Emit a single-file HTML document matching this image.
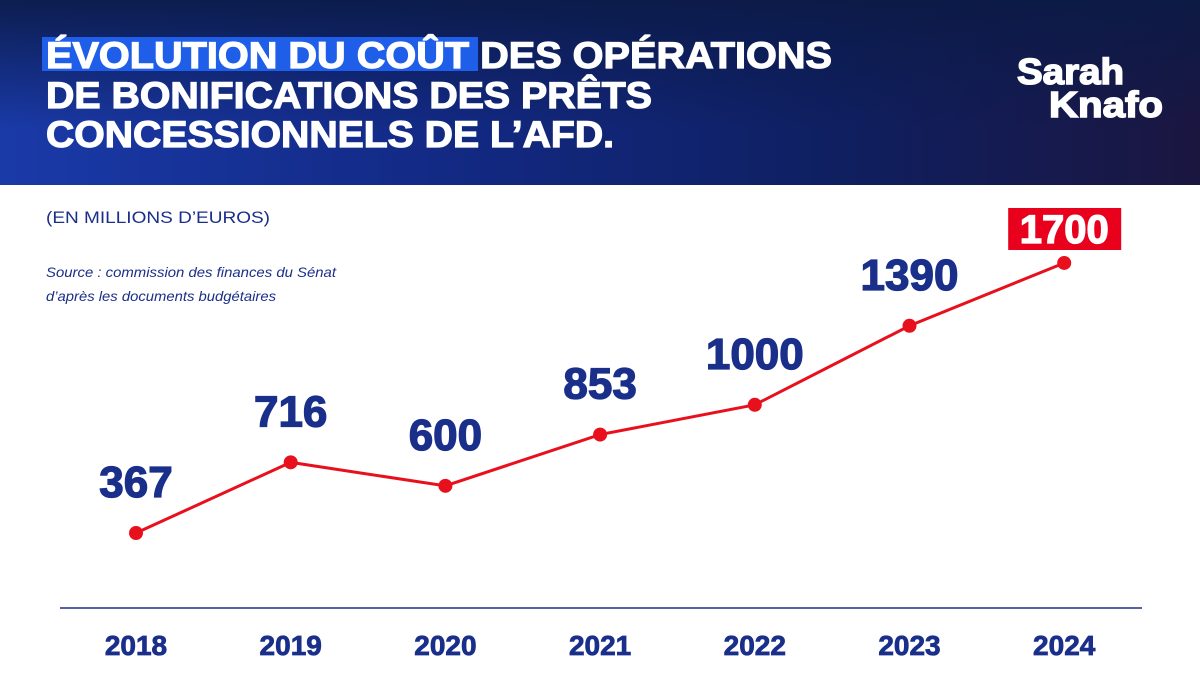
<!DOCTYPE html>
<html><head><meta charset="utf-8"><style>
body{margin:0;width:1200px;height:675px;overflow:hidden;background:#fff;font-family:"Liberation Sans",sans-serif}
</style></head><body>
<svg width="1200" height="675" viewBox="0 0 1200 675">
<defs>
<linearGradient id="hg" x1="0" y1="0" x2="1" y2="0">
<stop offset="0" stop-color="#1a3aa8"/><stop offset="0.35" stop-color="#132a86"/><stop offset="0.7" stop-color="#0f1f60"/><stop offset="1" stop-color="#1b1640"/>
</linearGradient>
<linearGradient id="hv" x1="0" y1="0" x2="0" y2="1">
<stop offset="0" stop-color="#0b1a45" stop-opacity="0.9"/><stop offset="0.7" stop-color="#0b1a4a" stop-opacity="0"/>
</linearGradient>
</defs>
<g>
<rect x="0" y="0" width="1200" height="185" fill="url(#hg)"/>
<rect x="0" y="0" width="1200" height="185" fill="url(#hv)"/>
<rect x="42" y="37" width="436" height="34" fill="#1f5ee8"/>
<g font-weight="bold" font-size="37" fill="#fff" stroke="#fff" stroke-width="1.2">
<text x="46" y="68" textLength="786" lengthAdjust="spacingAndGlyphs">ÉVOLUTION DU COÛT DES OPÉRATIONS</text>
<text x="46" y="108" textLength="606" lengthAdjust="spacingAndGlyphs">DE BONIFICATIONS DES PRÊTS</text>
<text x="46" y="147" textLength="568" lengthAdjust="spacingAndGlyphs">CONCESSIONNELS DE L’AFD.</text>
</g>
<g font-weight="bold" fill="#fff" stroke="#fff" stroke-width="1.5" font-size="36">
<text x="1017" y="84" textLength="107" lengthAdjust="spacingAndGlyphs">Sarah</text>
<text x="1049" y="117" textLength="114" lengthAdjust="spacingAndGlyphs">Knafo</text>
</g>
</g>
<text x="46" y="223" font-size="17" fill="#1a2f8a" textLength="224" lengthAdjust="spacingAndGlyphs">(EN MILLIONS D’EUROS)</text>
<g font-size="14" font-style="italic" fill="#1a2f8a">
<text x="46" y="277" textLength="290" lengthAdjust="spacingAndGlyphs">Source : commission des finances du Sénat</text>
<text x="46" y="301" textLength="230" lengthAdjust="spacingAndGlyphs">d’après les documents budgétaires</text>
</g>
<line x1="60" y1="608" x2="1142" y2="608" stroke="#1a2f8a" stroke-width="1.5"/>
<g id="plot"></g>
</svg>
<script>
const years=["2018","2019","2020","2021","2022","2023","2024"];
const values=[367,716,600,853,1000,1390,1700];
const NS="http://www.w3.org/2000/svg";
const g=document.getElementById('plot');
const xs=i=>136+i*154.7;
const ys=v=>607.4-v*0.2026;
function mk(t,a){const e=document.createElementNS(NS,t);for(const k in a)e.setAttribute(k,a[k]);g.appendChild(e);return e;}
const line=mk('polyline',{points:values.map((v,i)=>xs(i)+','+ys(v)).join(' '),fill:'none',stroke:'#e8101c','stroke-width':3});


values.forEach((v,i)=>{
const x=xs(i),y=ys(v);
const c=mk('circle',{cx:x,cy:y,r:7,fill:'#e8101c'});


const last=i===values.length-1;
if(last){
const r=mk('rect',{x:x-56,y:y-55,width:113,height:42,fill:'#e8001c'});


}
const col=last?'#fff':'#1a2f8a';
const t=mk('text',{x:x,y:last?y-20:y-36,'text-anchor':'middle','font-size':last?40:44,'font-weight':'bold',fill:col,stroke:col,'stroke-width':1.3});
t.textContent=v;


const yl=mk('text',{x:x,y:655,'text-anchor':'middle','font-size':28,'font-weight':'bold',fill:'#1a2f8a',stroke:'#1a2f8a','stroke-width':0.8});
yl.textContent=years[i];


});
</script>
</body></html>
